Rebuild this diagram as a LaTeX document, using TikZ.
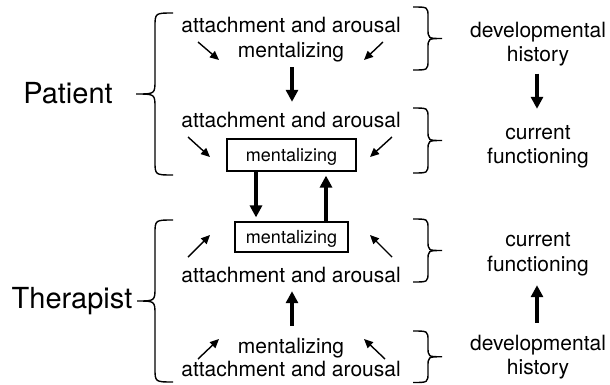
\documentclass[tikz,border=0pt]{standalone}
\usepackage{fontspec}
\setmainfont{TeX Gyre Heros}
\usetikzlibrary{arrows.meta,calc}
\newcommand{\CurlyBr}[6]{%
 \draw[bracestyle] (#1,#4) .. controls (#2,#4) .. (#2,{#4+#6}) -- (#2,{(#4+#5)/2-#6}) .. controls (#2,{(#4+#5)/2}) .. (#3,{(#4+#5)/2}) .. controls (#2,{(#4+#5)/2}) .. (#2,{(#4+#5)/2+#6}) -- (#2,{#5-#6}) .. controls (#2,#5) .. (#1,#5);}
\begin{document}
\begin{tikzpicture}[x=1pt,y=-1pt,
  txt/.style={anchor=base,inner sep=0pt,text height=15pt,text depth=5pt,font=\fontsize{21}{25}\selectfont},
  big/.style={anchor=base,inner sep=0pt,font=\fontsize{29}{34}\selectfont},
  mbox/.style={draw,line width=1.2pt,inner sep=0pt,text height=13pt,text depth=1pt,font=\fontsize{18}{21}\selectfont},
  thinarrow/.style={line width=1.4pt,-{Triangle[length=9pt,width=8pt]}},
  thickarrow/.style={line width=3.6pt,-{Triangle[length=12pt,width=12pt]}},
  bracestyle/.style={line width=1.4pt}]
\path[use as bounding box] (0,0) rectangle (610,384);

% left labels
\node[big] (patient) at (68,103.5) {Patient};
\node[big] (therapist) at (72,308.5) {Therapist};

% patient column
\node[txt] (paa1) at (291,32) {attachment and arousal};
\node[txt] (pm1) at (291,57) {mentalizing};
\node[txt] (paa2) at (291,127) {attachment and arousal};
\node[mbox, minimum width=129pt, minimum height=32pt] (pbox) at (291.5,155) {mentalizing};

% therapist column
\node[mbox, minimum width=113pt, minimum height=30pt] (tbox) at (291.5,237) {mentalizing};
\node[txt] (taa2) at (291,282) {attachment and arousal};
\node[txt] (tm1) at (291,353) {mentalizing};
\node[txt] (taa1) at (291,376) {attachment and arousal};

% right column
\node[txt] (pdev) at (538,37.5) {developmental};
\node[txt] (phist) at (538,61) {history};
\node[txt] (pcur) at (538,139) {current};
\node[txt] (pfun) at (538,163) {functioning};
\node[txt] (tcur) at (538,246) {current};
\node[txt] (tfun) at (538,271) {functioning};
\node[txt] (tdev) at (538,350.5) {developmental};
\node[txt] (thist) at (538,374.5) {history};

% thick arrows
\draw[thickarrow] ($(pm1.south)+(1,5)$) -- ($(paa2.north)+(1,-10)$);
\draw[thickarrow] ($(pbox.south)+(-35.5,0)$) -- ($(tbox.north)+(-35.5,-4)$);
\draw[thickarrow] ($(tbox.north)+(34.5,0)$) -- ($(pbox.south)+(34.5,4)$);
\draw[thickarrow] ($(tm1.north)+(1,-12)$) -- ($(taa2.south)+(1,4)$);
\draw[thickarrow] ($(phist.south)+(-1,7.5)$) -- ($(pcur.north)+(-1,-15)$);
\draw[thickarrow] ($(tdev.north)+(-1,-12.5)$) -- ($(tfun.south)+(-1,9)$);

% thin arrows
\draw[thinarrow] ($(pm1)+(-93,-10)$) -- ($(pm1)+(-72,8)$);
\draw[thinarrow] ($(pm1)+(92,-10)$) -- ($(pm1)+(73,8)$);
\draw[thinarrow] ($(pbox)+(-103.5,-18)$) -- ($(pbox)+(-81.5,2)$);
\draw[thinarrow] ($(pbox)+(100.5,-18)$) -- ($(pbox)+(78.5,2)$);
\draw[thinarrow] ($(tbox)+(-103.5,20)$) -- ($(tbox)+(-81.5,-2)$);
\draw[thinarrow] ($(tbox)+(100.5,20)$) -- ($(tbox)+(78.5,-2)$);
\draw[thinarrow] ($(tm1)+(-93,11)$) -- ($(tm1)+(-72,-9)$);
\draw[thinarrow] ($(tm1)+(94,11)$) -- ($(tm1)+(73,-9)$);

% braces
\CurlyBr{173}{155}{136}{13}{175}{14}
\CurlyBr{173}{155}{137}{220}{382}{14}
\CurlyBr{413}{428}{442}{7}{70}{10}
\CurlyBr{413}{428}{442}{108}{173}{10}
\CurlyBr{413}{428}{442}{219}{282}{10}
\CurlyBr{413}{428}{442}{331}{382.5}{10}
\end{tikzpicture}
\end{document}
